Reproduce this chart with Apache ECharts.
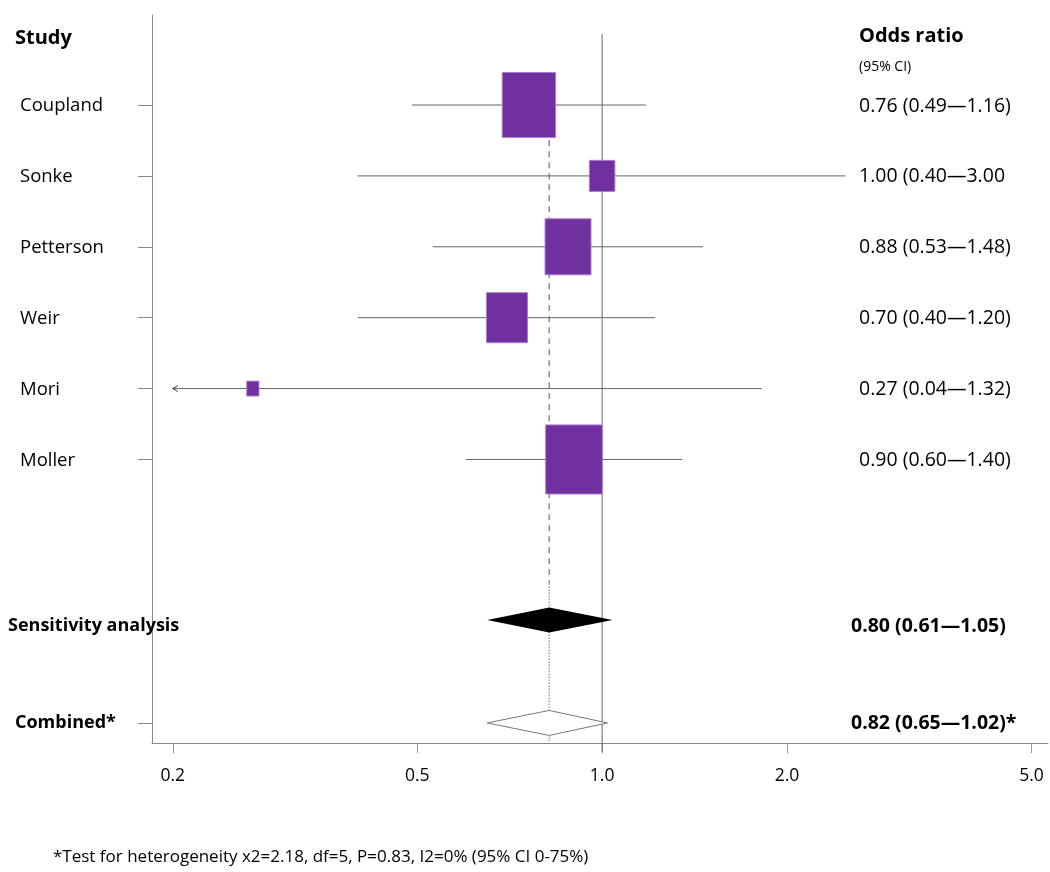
<!DOCTYPE html>
<html>
<head>
<meta charset="utf-8">
<script src="https://cdn.jsdelivr.net/npm/echarts@6/dist/echarts.min.js"></script>
<style>
  html, body { margin: 0; padding: 0; background: #fff; }
  #forest { width: 1050px; height: 872px; }
</style>
</head>
<body>
<div id="forest"></div>
<script>
// study data
const studies = ['Coupland', 'Sonke', 'Petterson', 'Weir', 'Mori', 'Moller'];
const oddsRatio = [0.76, 1.00, 0.88, 0.70, 0.27, 0.90];
const ciLow = [0.49, 0.40, 0.53, 0.40, 0.04, 0.60];
const ciHigh = [1.18, 2.49, 1.46, 1.22, 1.82, 1.35];
const weights = [26.7, 6.1, 19.8, 15.8, 1.4, 30.1];
const orLabels = ['0.76 (0.49\u20141.16)', '1.00 (0.40\u20143.00', '0.88 (0.53\u20141.48)',
  '0.70 (0.40\u20141.20)', '0.27 (0.04\u20141.32)', '0.90 (0.60\u20141.40)'];

// pooled estimates
const pooledNames = ['Sensitivity analysis', 'Combined*'];
const pooledOR = [0.82, 0.82];
const pooledLow = [0.65, 0.65];
const pooledHigh = [1.04, 1.02];
const pooledLabels = ['0.80 (0.61\u20141.05)', '0.82 (0.65\u20141.02)*'];

const xTicks = [0.2, 0.5, 1, 2, 5];
const footnote = '*Test for heterogeneity x2=2.18, df=5, P=0.83, I2=0% (95% CI 0-75%)';

// layout
const rowPos = [0, 1, 2, 3, 4, 5];
const pooledPos = [7.265, 8.717];
const xMin = 0.185, xMax = 5.32;
const font = '"Open Sans", sans-serif';
const purple = '#7030a0';

const chart = echarts.init(document.getElementById('forest'));

function studyItem(params, api) {
  const i = params.dataIndex;
  const y = rowPos[i];
  const c = api.coord([oddsRatio[i], y]);
  const lo = api.coord([Math.max(ciLow[i], 0.2), y]);
  const hi = api.coord([ciHigh[i], y]);
  const h = 12.6 * Math.sqrt(weights[i]);
  const w = h * 0.82;
  const children = [
    { type: 'line', shape: { x1: lo[0], y1: lo[1], x2: hi[0], y2: hi[1] },
      style: { stroke: '#666', lineWidth: 1 } },
    { type: 'rect', shape: { x: c[0] - w / 2, y: c[1] - h / 2, width: w, height: h },
      style: { fill: purple, stroke: '#a882cc', lineWidth: 1 } },
    { type: 'text', style: { x: 20, y: c[1] + 1, text: studies[i], font: '18.5px ' + font,
      fill: '#000', verticalAlign: 'middle' } },
    { type: 'text', style: { x: 859, y: c[1] + 1, text: orLabels[i], font: '19.5px ' + font,
      fill: '#000', verticalAlign: 'middle' } }
  ];
  if (ciLow[i] < 0.2) {
    // CI runs off the left edge: arrow at the axis limit
    children.push({ type: 'polyline',
      shape: { points: [[lo[0] + 5, lo[1] - 3], [lo[0], lo[1]], [lo[0] + 5, lo[1] + 3]] },
      style: { stroke: '#333', lineWidth: 1, fill: null } });
  }
  return { type: 'group', children: children };
}

function pooledItem(params, api) {
  const i = params.dataIndex;
  const y = pooledPos[i];
  const c = api.coord([pooledOR[i], y]);
  const lo = api.coord([pooledLow[i], y]);
  const hi = api.coord([pooledHigh[i], y]);
  const hh = 12.5;
  const solid = i === 0;
  const ty = c[1] + (solid ? 6 : 0);
  return {
    type: 'group',
    children: [
      { type: 'polygon',
        shape: { points: [[lo[0], c[1]], [c[0], c[1] - hh], [hi[0], c[1]], [c[0], c[1] + hh]] },
        style: solid ? { fill: '#000' } : { fill: '#fff', stroke: '#777', lineWidth: 1 } },
      { type: 'text', style: { x: solid ? 8 : 15, y: ty, text: pooledNames[i],
        font: 'bold 18px ' + font, fill: '#000', verticalAlign: 'middle' } },
      { type: 'text', style: { x: 851, y: ty, text: pooledLabels[i],
        font: 'bold 19.5px ' + font, fill: '#000', verticalAlign: 'middle' } }
    ]
  };
}

function refLines(params, api) {
  const top1 = api.coord([1, -1]);
  const bot1 = api.coord([1, 9]);
  const a = api.coord([pooledOR[1], -0.28]);
  const m = api.coord([pooledOR[1], 6.75]);
  const b = api.coord([pooledOR[1], 8.98]);
  return {
    type: 'group',
    children: [
      { type: 'line', shape: { x1: top1[0], y1: top1[1], x2: bot1[0], y2: bot1[1] + 9 },
        style: { stroke: '#666', lineWidth: 1 } },
      { type: 'line', shape: { x1: a[0], y1: a[1], x2: m[0], y2: m[1] },
        style: { stroke: '#555', lineWidth: 1, lineDash: [6, 5] } },
      { type: 'line', shape: { x1: m[0], y1: m[1], x2: b[0], y2: b[1] },
        style: { stroke: '#777', lineWidth: 1, lineDash: [1.5, 1.5] } }
    ]
  };
}

chart.setOption({
  animation: false,
  backgroundColor: '#fff',
  grid: { left: 152, right: 2, top: 15, bottom: 129 },
  xAxis: {
    type: 'log',
    logBase: 10,
    min: xMin,
    max: xMax,
    splitLine: { show: false },
    axisLine: { onZero: false, lineStyle: { color: '#888', width: 1 } },
    axisTick: { customValues: xTicks, length: 10, lineStyle: { color: '#999' } },
    axisLabel: {
      customValues: xTicks,
      formatter: v => Number(v).toFixed(1),
      margin: 24,
      fontSize: 17.5,
      fontFamily: font,
      color: '#000'
    }
  },
  yAxis: {
    type: 'value',
    inverse: true,
    min: -1.27,
    max: 9,
    splitLine: { show: false },
    axisLine: { show: true, onZero: false, lineStyle: { color: '#888', width: 1 } },
    axisTick: { show: true, customValues: rowPos.concat([pooledPos[1]]), length: 14,
      lineStyle: { color: '#888' } },
    axisLabel: { show: false }
  },
  graphic: [
    { type: 'text', left: 15, top: 28,
      style: { text: 'Study', font: 'bold 20px ' + font, fill: '#000' } },
    { type: 'text', left: 859, top: 26,
      style: { text: 'Odds ratio', font: 'bold 20px ' + font, fill: '#000' } },
    { type: 'text', left: 859, top: 60,
      style: { text: '(95% CI)', font: '14px ' + font, fill: '#000' } },
    { type: 'text', left: 53, top: 849,
      style: { text: footnote, font: '17px ' + font, fill: '#000' } }
  ],
  series: [
    { type: 'custom', renderItem: refLines, data: [[1, 0]], z: 1, silent: true, clip: false },
    { type: 'custom', renderItem: studyItem, data: oddsRatio.map((v, i) => [v, rowPos[i]]), z: 2 },
    { type: 'custom', renderItem: pooledItem, data: pooledOR.map((v, i) => [v, pooledPos[i]]), z: 2 }
  ]
});
</script>
</body>
</html>
